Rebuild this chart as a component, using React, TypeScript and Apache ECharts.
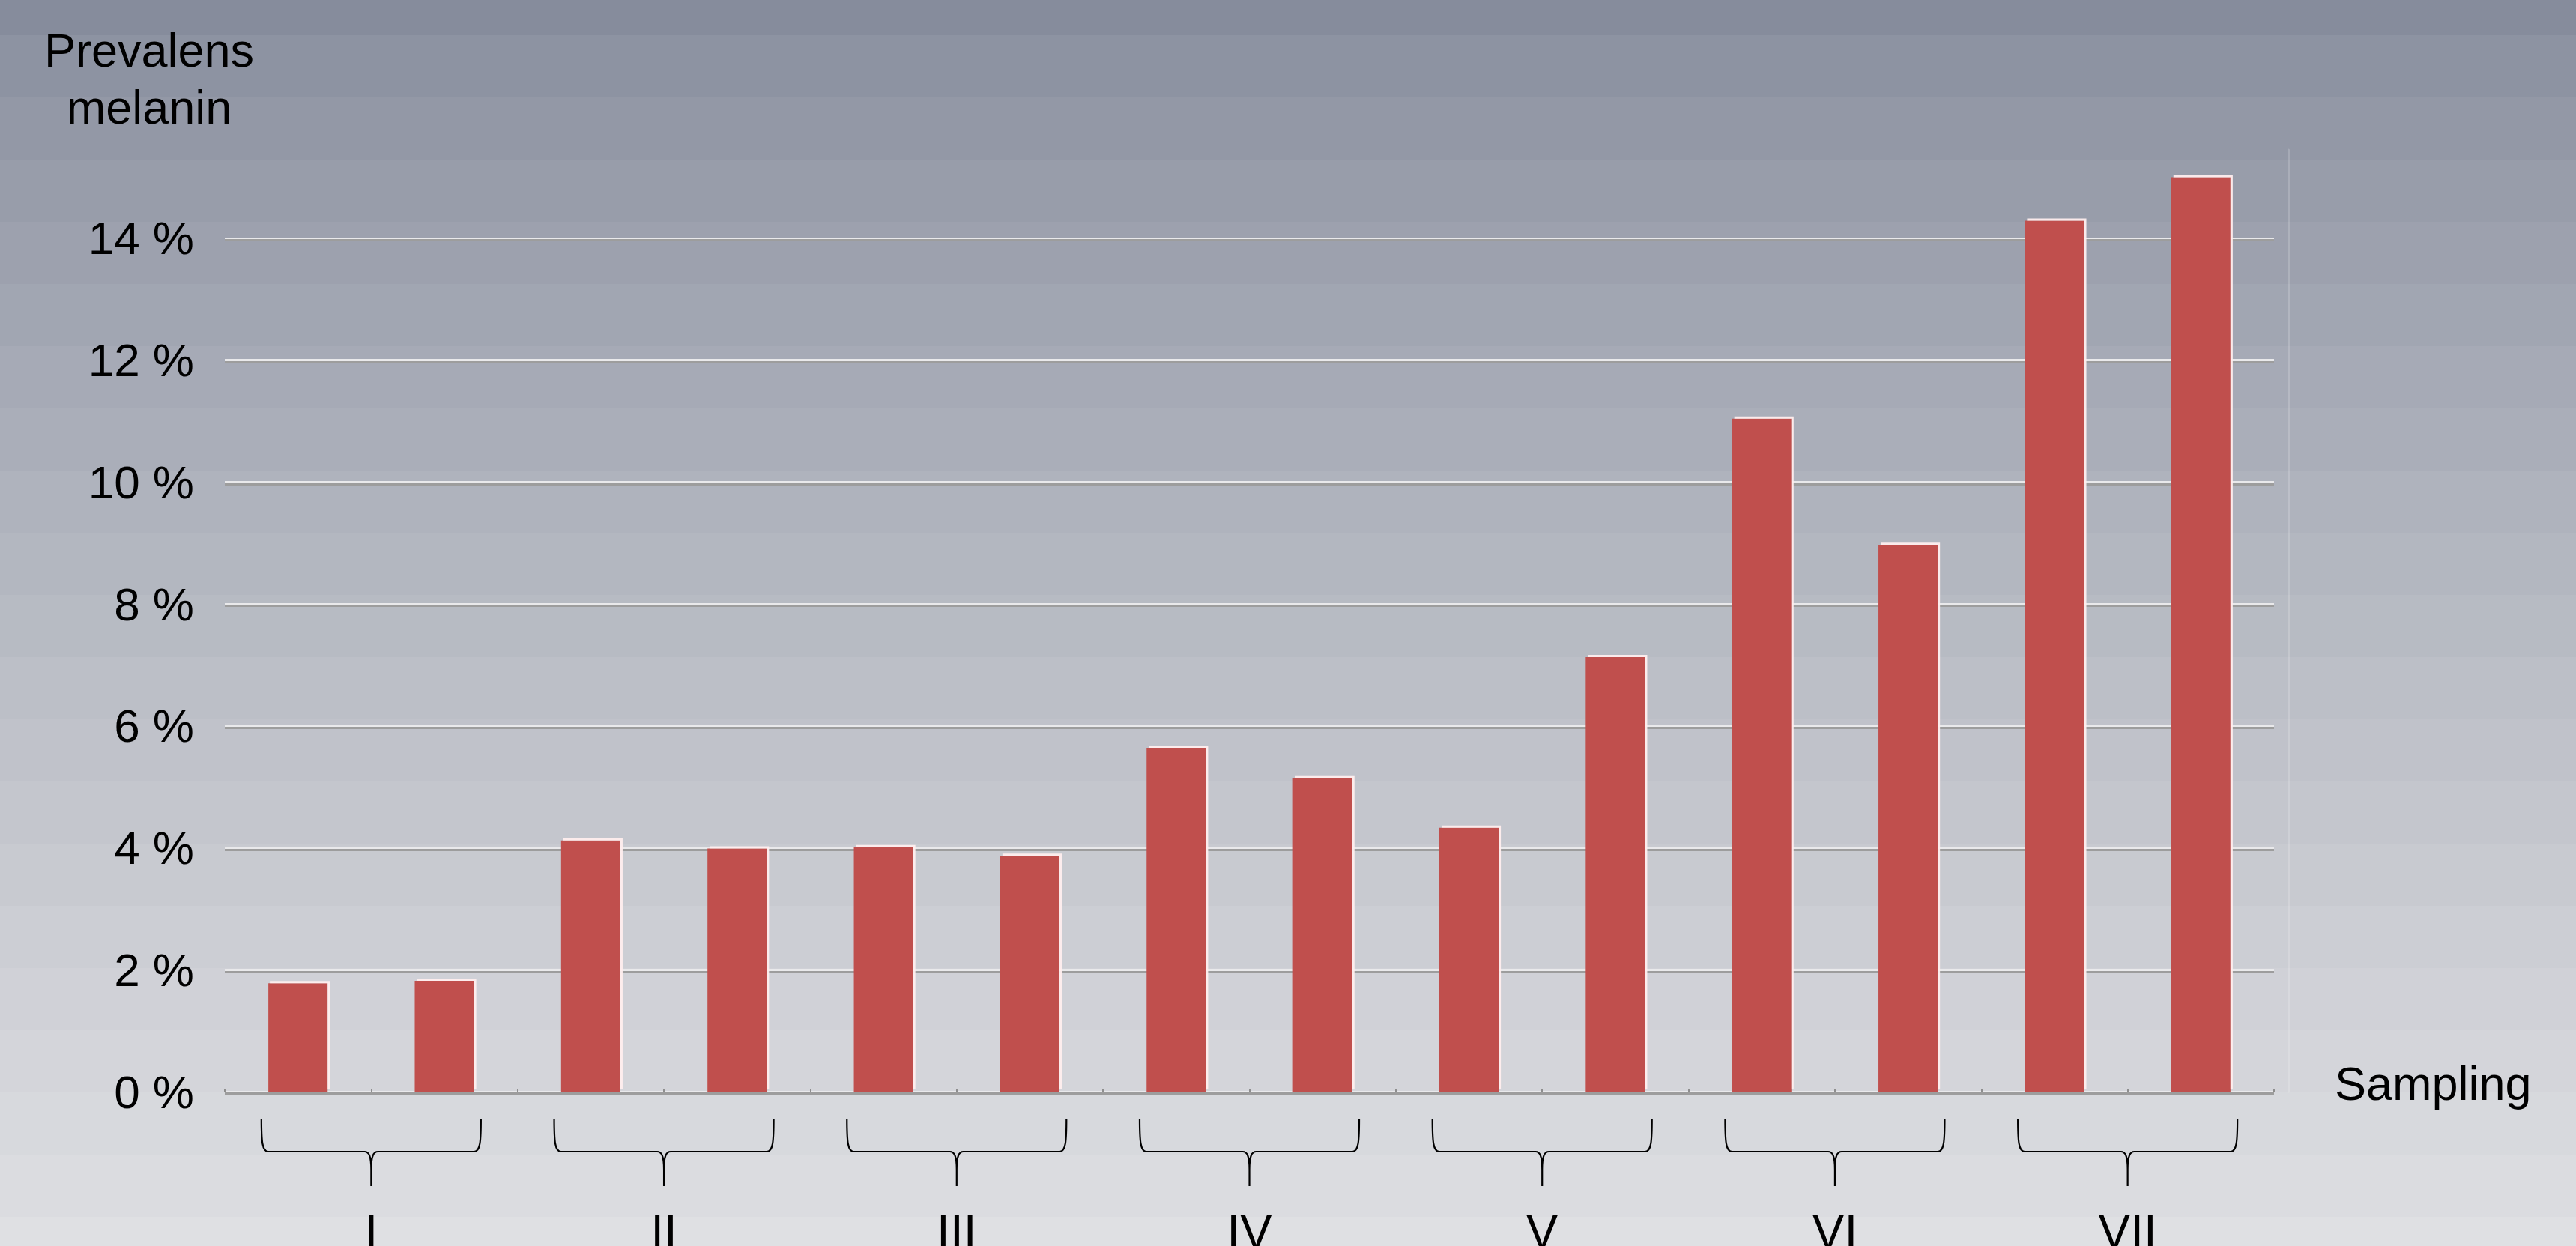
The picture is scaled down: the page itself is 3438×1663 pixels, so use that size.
import React, { useEffect, useRef } from "react";
import * as echarts from "echarts";

// ---- Data ----
const categories = [
  "I-1", "I-2", "II-1", "II-2", "III-1", "III-2", "IV-1",
  "IV-2", "V-1", "V-2", "VI-1", "VI-2", "VII-1", "VII-2",
];
const prevalence = [1.78, 1.82, 4.12, 3.99, 4.01, 3.87, 5.63, 5.14, 4.33, 7.13, 11.04, 8.97, 14.29, 15.0];
const groupLabels = ["I", "II", "III", "IV", "V", "VI", "VII"];
const yAxisTitle = "Prevalens\nmelanin";
const xAxisTitle = "Sampling";
const yMin = 0;
const yMax = 15.45;
const yInterval = 2;

const FONT = "'Liberation Sans', Arial, Helvetica, sans-serif";
const W = 3438;
const H = 1663;

function bandBackground() {
  const top = [134, 140, 156];
  const bot = [223, 224, 227];
  const stops: { offset: number; color: string }[] = [];
  const n = 20;
  for (let k = 0; k <= n; k++) {
    const start = k === 0 ? 0 : (47 + 83 * (k - 1)) / H;
    const end = Math.min(1, (47 + 83 * k) / H);
    const t = Math.pow(k / n, 0.85);
    const c = top.map((v, i) => Math.round(v + (bot[i] - v) * t));
    const col = `rgb(${c[0]},${c[1]},${c[2]})`;
    stops.push({ offset: Math.max(0, start), color: col });
    stops.push({ offset: Math.min(1, end), color: col });
    if (end >= 1) break;
  }
  return new echarts.graphic.LinearGradient(0, 0, 0, 1, stops);
}

function braceRender(params: any, api: any) {
  const idx = params.dataIndex;
  const i0 = api.value(0);
  const p1 = api.coord([i0, 0]);
  const p2 = api.coord([i0 + 1, 0]);
  const cw = api.size([1, 0])[0];
  const cx = (p1[0] + p2[0]) / 2;
  const y0 = p1[1];
  const hw = cw * 0.75;
  const L = cx - hw;
  const R = cx + hw;
  const y1 = y0 + 36;
  const y2 = y0 + 80;
  const y3 = y0 + 126;
  const d =
    `M ${L} ${y1} C ${L} ${y2 - 14} ${L + 1} ${y2} ${L + 9} ${y2} ` +
    `L ${cx - 9} ${y2} C ${cx - 3} ${y2} ${cx} ${y2 + 6} ${cx} ${y2 + 24} L ${cx} ${y3} ` +
    `M ${R} ${y1} C ${R} ${y2 - 14} ${R - 1} ${y2} ${R - 9} ${y2} ` +
    `L ${cx + 9} ${y2} C ${cx + 3} ${y2} ${cx} ${y2 + 6} ${cx} ${y2 + 24}`;
  return {
    type: "group",
    children: [
      {
        type: "path",
        shape: { pathData: d },
        style: { fill: "none", stroke: "#000000", lineWidth: 2.2 },
      },
      {
        type: "text",
        style: {
          text: groupLabels[idx],
          x: cx,
          y: y0 + 187,
          align: "center",
          textAlign: "center",
          verticalAlign: "middle",
          textVerticalAlign: "middle",
          fontSize: 64,
          fontFamily: FONT,
          fill: "#000000",
        },
      },
    ],
  };
}

export default function App() {
  const ref = useRef<HTMLDivElement>(null);
  useEffect(() => {
    document.body.style.margin = "0";
    const chart = echarts.init(ref.current!, null, { renderer: "svg", width: W, height: H });
    const gridL = 300;
    const gridR = W - 3035;
    const gridT = 200;
    const gridB = H - 1457;
    const option: any = {
      animation: false,
      backgroundColor: bandBackground(),
      grid: [
        { left: gridL, right: gridR, top: gridT, bottom: gridB },
        { left: gridL, right: gridR, top: gridT + 2.5, bottom: gridB - 2.5 },
      ],
      xAxis: [
        {
          type: "category",
          gridIndex: 0,
          data: categories,
          axisLine: { show: false },
          axisTick: { show: true, inside: true, length: 4, lineStyle: { color: "#8e8e8e", width: 2 } },
          axisLabel: { show: false },
          splitLine: { show: false },
        },
        {
          type: "category",
          gridIndex: 1,
          data: categories,
          show: false,
        },
      ],
      yAxis: [
        {
          type: "value",
          gridIndex: 0,
          min: yMin,
          max: yMax,
          interval: yInterval,
          axisLine: { show: false },
          axisTick: { show: false },
          axisLabel: {
            margin: 41,
            fontSize: 62,
            fontFamily: FONT,
            color: "#000000",
            showMaxLabel: false,
            formatter: (v: number) => (v % yInterval === 0 ? `${v} %` : ""),
          },
          splitLine: {
            show: true,
            showMaxLine: false,
            lineStyle: { color: "#e9e9eb", width: 3 },
          },
        },
        {
          type: "value",
          gridIndex: 0,
          position: "right",
          offset: 19,
          min: yMin,
          max: yMax,
          interval: yInterval,
          axisLine: { show: true, lineStyle: { color: "rgba(255,255,255,0.18)", width: 3 } },
          axisTick: { show: false },
          axisLabel: { show: false },
          splitLine: { show: false },
        },
        {
          type: "value",
          gridIndex: 1,
          min: yMin,
          max: yMax,
          interval: yInterval,
          axisLine: { show: false },
          axisTick: { show: false },
          axisLabel: { show: false },
          splitLine: {
            show: true,
            showMaxLine: false,
            lineStyle: { color: "#9d9d9d", width: 3 },
          },
        },
      ],
      series: [
        {
          type: "bar",
          xAxisIndex: 0,
          yAxisIndex: 0,
          data: prevalence,
          barWidth: "40.5%",
          z: 5,
          itemStyle: {
            color: "#C0504D",
            shadowColor: "rgba(255,238,238,0.95)",
            shadowBlur: 0,
            shadowOffsetX: 3,
            shadowOffsetY: -3,
          },
        },
        {
          type: "custom",
          xAxisIndex: 0,
          yAxisIndex: 0,
          clip: false,
          z: 6,
          data: groupLabels.map((_, i) => [i * 2, 0]),
          renderItem: braceRender,
        },
      ],
      graphic: [
        {
          type: "text",
          left: undefined,
          x: 199,
          y: 29,
          style: {
            text: yAxisTitle,
            x: 0,
            y: 0,
            align: "center",
            textAlign: "center",
            verticalAlign: "top",
            textVerticalAlign: "top",
            fontSize: 63,
            lineHeight: 76,
            fontFamily: FONT,
            fill: "#000000",
          },
        },
        {
          type: "text",
          x: 3116,
          y: 1446,
          style: {
            text: xAxisTitle,
            x: 0,
            y: 0,
            align: "left",
            textAlign: "left",
            verticalAlign: "middle",
            textVerticalAlign: "middle",
            fontSize: 63,
            fontFamily: FONT,
            fill: "#000000",
          },
        },
      ],
    };
    chart.setOption(option);
    return () => chart.dispose();
  }, []);
  return <div ref={ref} style={{ position: "fixed", left: 0, top: 0, width: W, height: H }} />;
}
